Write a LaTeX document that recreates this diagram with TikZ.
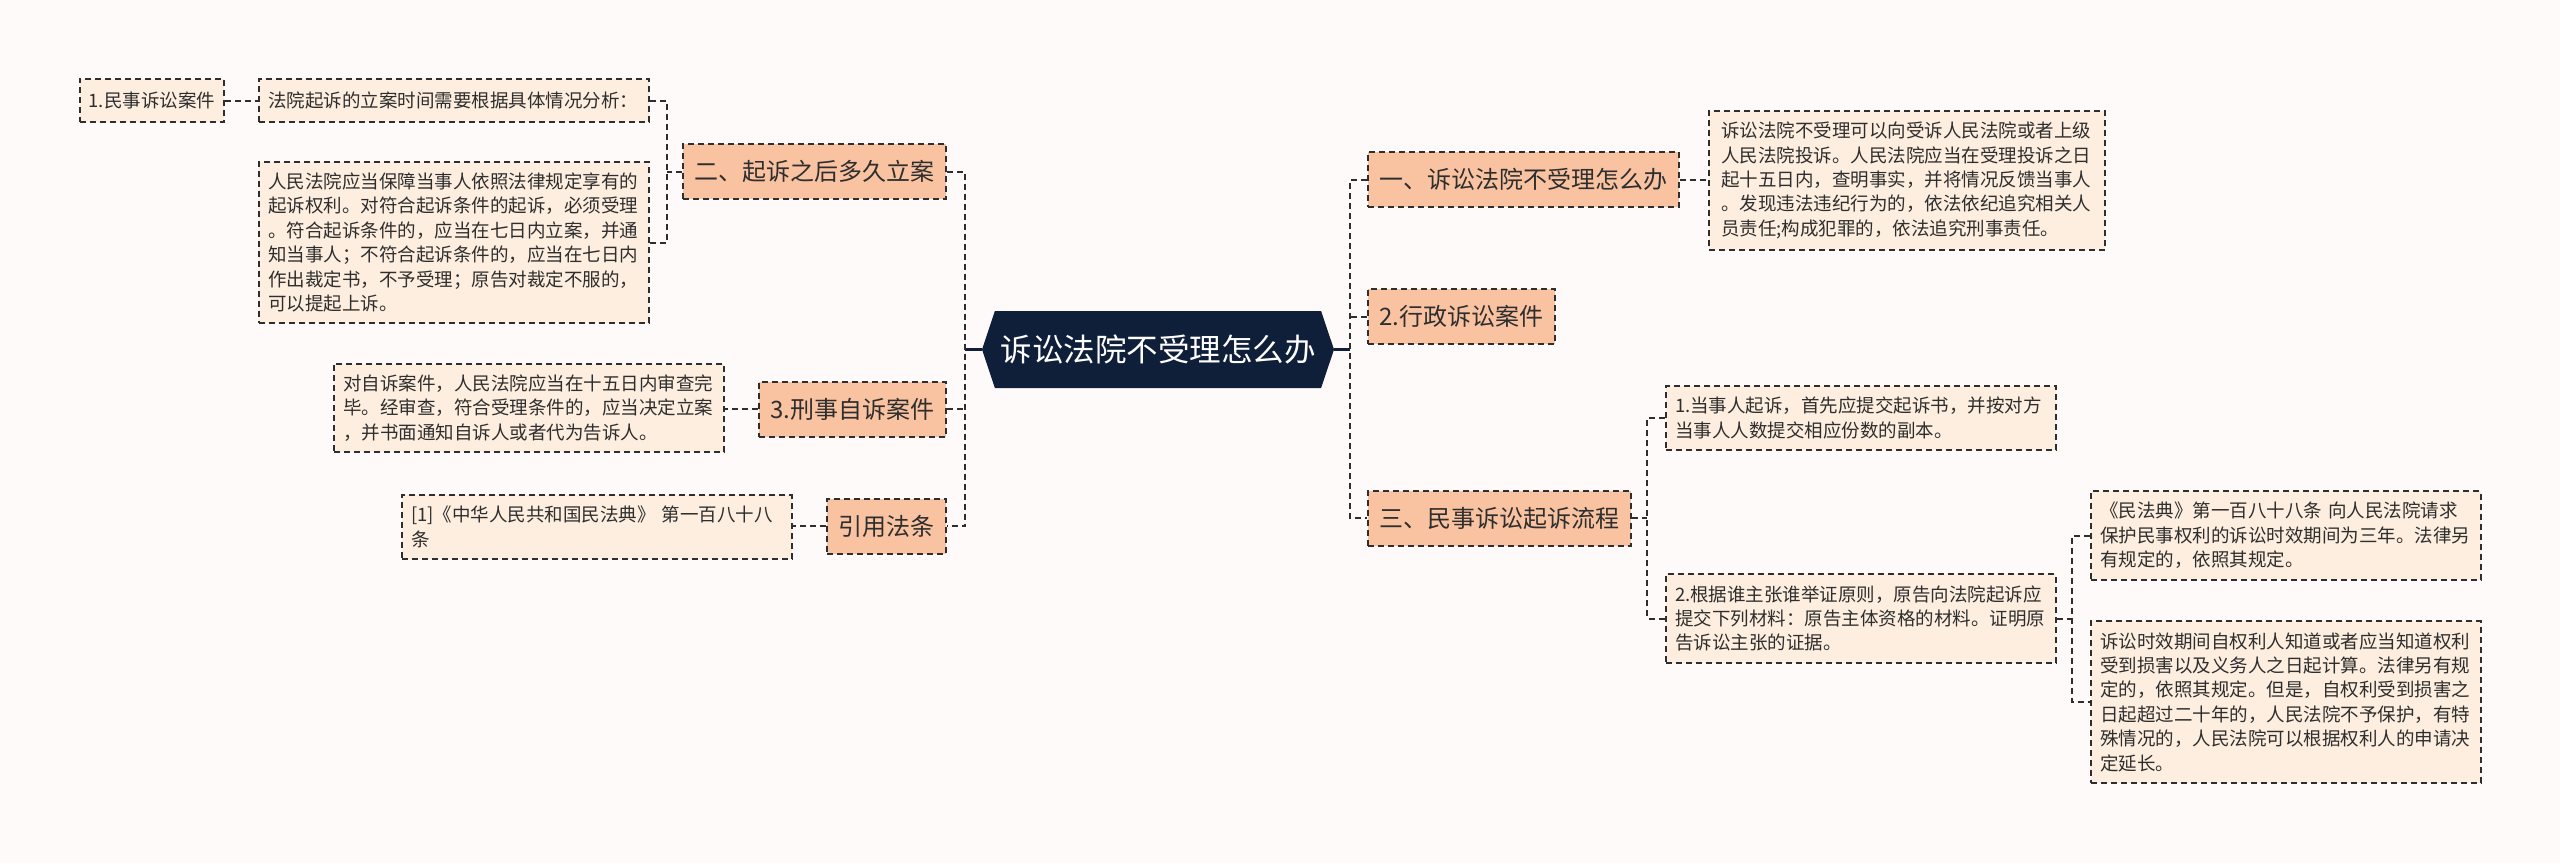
\documentclass[tikz,border=0pt]{standalone}
\usepackage{fontspec}
\setmainfont{Noto Sans CJK SC}
\usepackage{tikz}
\usetikzlibrary{positioning, shapes.symbols}
\usepackage{xcolor}
\definecolor{paper}{HTML}{FDFAF9}
\definecolor{navy}{HTML}{0F1F3A}
\definecolor{salmon}{HTML}{F9C3A2}
\definecolor{cream}{HTML}{FDEEDF}
\definecolor{ink}{HTML}{2E2E2E}

\begin{document}
\begin{tikzpicture}[
    x=1pt, y=-1pt,
    rootbox/.style={signal, signal to=west and east, signal pointer angle=143,
                 fill=navy, text=white, minimum width=352pt, minimum height=77pt,
                 inner sep=0pt, font=\fontsize{31.5}{36}\selectfont},
    bbox/.style={rectangle, draw=ink, dash pattern=on 6pt off 4pt, line width=2pt,
                 fill=salmon, text=ink, minimum height=55pt, inner xsep=11.5pt,
                 font=\fontsize{24}{28}\selectfont},
    lbox/.style={rectangle, draw=ink, dash pattern=on 6pt off 4pt, line width=2pt,
                 fill=cream, text=ink, text width=372pt, align=left,
                 inner xsep=9pt, inner ysep=11pt,
                 font=\fontsize{18.5}{24.4}\selectfont},
    link/.style={draw=ink, dash pattern=on 6pt off 4pt, line width=2pt},
    rlink/.style={draw=navy, line width=3pt},
  ]
    \fill[paper] (0,0) rectangle (2560,863);

    \node[rootbox] (root) at (1158,349.5) {诉讼法院不受理怎么办};

    % left side
    \node[bbox, anchor=east] (qian) at (947,171.5) {二、起诉之后多久立案};
    \node[bbox, anchor=east] (xingshi) at (947,409) {3.刑事自诉案件};
    \node[bbox, anchor=east] (fatiao) at (947,526) {引用法条};

    \node[lbox, anchor=east, minimum height=43pt] (fenxi) at (650,100.5) {法院起诉的立案时间需要根据具体情况分析：};
    \node[lbox, anchor=east, text width={}, minimum height=43pt] (minshi) at (225,100.5) {1.民事诉讼案件};
    \node[lbox, anchor=east] (baozhang) at (650,242.5) {人民法院应当保障当事人依照法律规定享有的\\
      起诉权利。对符合起诉条件的起诉，必须受理\\
      。符合起诉条件的，应当在七日内立案，并通\\
      知当事人；不符合起诉条件的，应当在七日内\\
      作出裁定书，不予受理；原告对裁定不服的，\\
      可以提起上诉。};
    \node[lbox, anchor=east] (zisu) at (725,408) {对自诉案件，人民法院应当在十五日内审查完\\
      毕。经审查，符合受理条件的，应当决定立案\\
      ，并书面通知自诉人或者代为告诉人。};
    \node[lbox, anchor=east] (dian) at (793,527) {[1]《中华人民共和国民法典》 第一百八十八\\
      条};

    % right side
    \node[bbox, anchor=west] (buli) at (1367,179.5) {一、诉讼法院不受理怎么办};
    \node[bbox, anchor=west] (xingzheng) at (1367,316.5) {2.行政诉讼案件};
    \node[bbox, anchor=west] (liucheng) at (1367,518) {三、民事诉讼起诉流程};

    \node[lbox, anchor=west, inner xsep=12pt] (tousu) at (1708,180.5) {诉讼法院不受理可以向受诉人民法院或者上级\\
      人民法院投诉。人民法院应当在受理投诉之日\\
      起十五日内，查明事实，并将情况反馈当事人\\
      。发现违法违纪行为的，依法依纪追究相关人\\
      员责任;构成犯罪的，依法追究刑事责任。};
    \node[lbox, anchor=west] (qisu) at (1665,418) {1.当事人起诉，首先应提交起诉书，并按对方\\
      当事人人数提交相应份数的副本。};
    \node[lbox, anchor=west] (juzheng) at (1665,618.5) {2.根据谁主张谁举证原则，原告向法院起诉应\\
      提交下列材料：原告主体资格的材料。证明原\\
      告诉讼主张的证据。};
    \node[lbox, anchor=west] (sannian) at (2090,535.5) {《民法典》第一百八十八条 向人民法院请求\\
      保护民事权利的诉讼时效期间为三年。法律另\\
      有规定的，依照其规定。};
    \node[lbox, anchor=west] (shixiao) at (2090,702) {诉讼时效期间自权利人知道或者应当知道权利\\
      受到损害以及义务人之日起计算。法律另有规\\
      定的，依照其规定。但是，自权利受到损害之\\
      日起超过二十年的，人民法院不予保护，有特\\
      殊情况的，人民法院可以根据权利人的申请决\\
      定延长。};

    % forks
    \coordinate (lspine) at (965,349.5);
    \coordinate (rspine) at (1350,349.5);
    \coordinate (qianfork) at (667,171.5);
    \coordinate (liufork) at (1647,518);
    \coordinate (jufork) at (2072,618.5);

    % connectors
    \draw[rlink] (root.west) -- (lspine);
    \draw[rlink] (root.east) -- (rspine);
    \draw[link] (qian.east) -- (qian.east -| lspine) -- (fatiao.east -| lspine) -- (fatiao.east);
    \draw[link] (xingshi.east) -- (xingshi.east -| lspine);
    \draw[link] (buli.west) -- (buli.west -| rspine) -- (liucheng.west -| rspine) -- (liucheng.west);
    \draw[link] (xingzheng.west) -- (xingzheng.west -| rspine);

    \draw[link] (fenxi.east) -- (fenxi.east -| qianfork) -- (baozhang.east -| qianfork) -- (baozhang.east);
    \draw[link] (qian.west) -- (qianfork);
    \draw[link] (minshi.east) -- (fenxi.west);
    \draw[link] (xingshi.west) -- (xingshi.west -| zisu.east);
    \draw[link] (fatiao.west) -- (fatiao.west -| dian.east);

    \draw[link] (buli.east) -- (buli.east -| tousu.west);
    \draw[link] (qisu.west) -- (qisu.west -| liufork) -- (juzheng.west -| liufork) -- (juzheng.west);
    \draw[link] (liucheng.east) -- (liufork);
    \draw[link] (sannian.west) -- (sannian.west -| jufork) -- (shixiao.west -| jufork) -- (shixiao.west);
    \draw[link] (juzheng.east) -- (jufork);
  \end{tikzpicture}
\end{document}
